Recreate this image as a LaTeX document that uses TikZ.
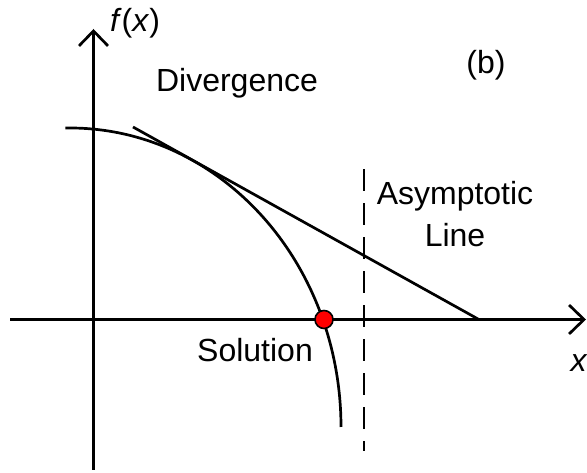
\documentclass[tikz,border=0pt]{standalone}
\usepackage{fontspec}
\setmainfont{Liberation Sans}
\usetikzlibrary{arrows.meta}
\begin{document}
\begin{tikzpicture}[x=1pt,y=1pt,
  axis/.style={line width=2.7pt,-{Straight Barb[length=15pt,width=29pt,line width=2.7pt]}},
  curveline/.style={line width=2.7pt},
  lbl/.style={anchor=base,inner sep=0pt,font=\fontsize{32}{38}\selectfont}]
\useasboundingbox (0,0) rectangle (587,473);
% axes
\coordinate (yb) at (93.5,3);
\coordinate (yt) at (93.5,444);
\coordinate (xl) at (10,153.5);
\coordinate (xr) at (586,153.5);
\draw[axis] (yb) -- (yt);
\draw[axis] (xl) -- (xr);
% asymptote
\coordinate (da) at (364,22);
\coordinate (db) at (364,304);
\draw[line width=2.7pt,dash pattern=on 22pt off 12pt,dash phase=12pt] (da) -- (db);
% tangent line
\coordinate (ta) at (133,346);
\coordinate (tb) at (478,154);
\draw[curveline] (ta) -- (tb);
% curve
\coordinate (c0) at (70,46);
\draw[curveline] (c0) ++(91:271pt and 299pt) arc[start angle=91,end angle=0,x radius=271pt,y radius=299pt];
% solution dot
\node[circle,fill=red,draw=black,line width=1.6pt,minimum size=18pt,inner sep=0pt] (sol) at (324,153.5) {};
% labels
\node[lbl] (fx) at (135,441) {\textit{f}(\textit{x})};
\node[lbl] (b) at (486,399) {(b)};
\node[lbl] (div) at (237,381) {Divergence};
\node[lbl] (asy) at (455,268) {Asymptotic};
\node[lbl] (line) at (455,226) {Line};
\node[lbl] (soltxt) at (255,111) {Solution};
\node[lbl] (xlab) at (579,101) {\textit{x}};
\end{tikzpicture}
\end{document}
